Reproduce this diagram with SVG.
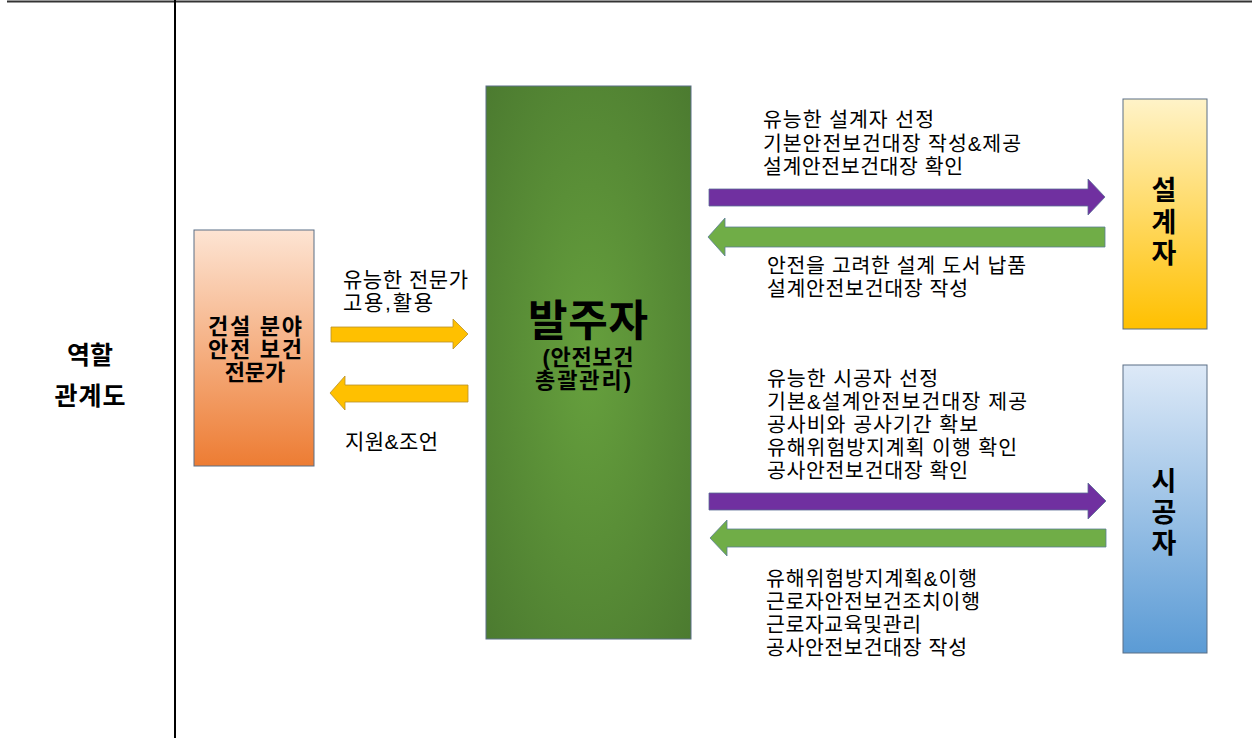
<svg xmlns="http://www.w3.org/2000/svg" width="1252" height="738" viewBox="0 0 1252 738">
<style>
.t{font-family:"Liberation Sans","Noto Sans CJK KR",sans-serif;fill:#000}
.lbl{font-size:20.5px}
.lbl2{font-size:21px}
.b{font-weight:bold;text-anchor:middle}
.box{stroke:#5a6e85;stroke-width:1}
</style>
<defs>
<linearGradient id="gOr" x1="0" y1="0" x2="0" y2="1"><stop offset="0" stop-color="#fde4d3"/><stop offset="1" stop-color="#ed7c33"/></linearGradient>
<radialGradient id="gGr" cx="0.5" cy="0.5" r="0.7"><stop offset="0" stop-color="#66a03d"/><stop offset="1" stop-color="#4c7b30"/></radialGradient>
<linearGradient id="gYe" x1="0" y1="0" x2="0" y2="1"><stop offset="0" stop-color="#fff3c8"/><stop offset="1" stop-color="#ffc000"/></linearGradient>
<linearGradient id="gBl" x1="0" y1="0" x2="0" y2="1"><stop offset="0" stop-color="#dde9f7"/><stop offset="1" stop-color="#5b9bd5"/></linearGradient>
</defs>
<rect width="1252" height="738" fill="#fff"/>
<line x1="7" y1="1.5" x2="1252" y2="1.5" stroke="#333" stroke-width="2"/>
<line x1="175" y1="0" x2="175" y2="738" stroke="#000" stroke-width="2"/>
<g id="title">
<text class="t b" x="90" y="364" font-size="25" textLength="46">역할</text>
<text class="t b" x="90" y="405" font-size="25" textLength="71">관계도</text>
</g>
<g id="expert">
<rect class="box" x="194" y="230" width="120" height="236" fill="url(#gOr)"/>
<text class="t b" x="255" y="334" font-size="22" textLength="94">건설 분야</text>
<text class="t b" x="255" y="357" font-size="22" textLength="94">안전 보건</text>
<text class="t b" x="255" y="380" font-size="22">전문가</text>
</g>
<g id="owner">
<rect class="box" x="486" y="86" width="205" height="553" fill="url(#gGr)"/>
<text class="t b" x="588" y="336" font-size="43" textLength="120">발주자</text>
<text class="t b" x="588" y="365" font-size="22" textLength="91">(안전보건</text>
<text class="t b" x="583" y="388" font-size="22" textLength="96">총괄관리)</text>
</g>
<g id="designer">
<rect class="box" x="1123" y="99" width="84" height="230" fill="url(#gYe)"/>
<text class="t b" x="1164" y="200" font-size="27">설</text>
<text class="t b" x="1164" y="232" font-size="27">계</text>
<text class="t b" x="1164" y="263" font-size="27">자</text>
</g>
<g id="constructor">
<rect class="box" x="1123" y="365" width="84" height="288" fill="url(#gBl)"/>
<text class="t b" x="1164" y="491" font-size="27">시</text>
<text class="t b" x="1164" y="522" font-size="27">공</text>
<text class="t b" x="1164" y="553" font-size="27">자</text>
</g>
<g id="connectors">
<polygon points="331,327 453,327 453,319 468,334 453,349 453,342 331,342" fill="#ffc000" stroke="#b8902a" stroke-width="0.8"/>
<polygon points="468,385 345,385 345,376 330,393 345,410 345,402 468,402" fill="#ffc000" stroke="#b8902a" stroke-width="0.8"/>
<polygon points="709,189 1088,189 1088,179 1105,197 1088,215 1088,206 709,206" fill="#7030a0" stroke="#5b6d96" stroke-width="0.8"/>
<polygon points="1105,227 725,227 725,218 708,237 725,256 725,247 1105,247" fill="#70ad47" stroke="#5b7d96" stroke-width="0.8"/>
<polygon points="709,493 1088,493 1088,483 1106,501 1088,519 1088,510 709,510" fill="#7030a0" stroke="#5b6d96" stroke-width="0.8"/>
<polygon points="1106,529 727,529 727,520 710,538 727,556 727,547 1106,547" fill="#70ad47" stroke="#5b7d96" stroke-width="0.8"/>
</g>
<g id="labels">
<text class="t lbl2" x="343" y="287" textLength="125">유능한 전문가</text>
<text class="t lbl2" x="343" y="310" textLength="90">고용,활용</text>
<text class="t lbl2" x="345" y="449" textLength="93">지원&amp;조언</text>
<text class="t lbl" x="763" y="127" textLength="171">유능한 설계자 선정</text>
<text class="t lbl" x="763" y="151" textLength="258">기본안전보건대장 작성&amp;제공</text>
<text class="t lbl" x="763" y="174" textLength="200">설계안전보건대장 확인</text>
<text class="t lbl" x="767" y="273" textLength="259">안전을 고려한 설계 도서 납품</text>
<text class="t lbl" x="767" y="296" textLength="201">설계안전보건대장 작성</text>
<text class="t lbl" x="767" y="386" textLength="171">유능한 시공자 선정</text>
<text class="t lbl" x="767" y="409" textLength="260">기본&amp;설계안전보건대장 제공</text>
<text class="t lbl" x="767" y="432" textLength="211">공사비와 공사기간 확보</text>
<text class="t lbl" x="767" y="455" textLength="250">유해위험방지계획 이행 확인</text>
<text class="t lbl" x="767" y="478" textLength="201">공사안전보건대장 확인</text>
<text class="t lbl" x="766" y="586" textLength="211">유해위험방지계획&amp;이행</text>
<text class="t lbl" x="766" y="609" textLength="214">근로자안전보건조치이행</text>
<text class="t lbl" x="766" y="632" textLength="155">근로자교육및관리</text>
<text class="t lbl" x="766" y="655" textLength="201">공사안전보건대장 작성</text>
</g>
</svg>
